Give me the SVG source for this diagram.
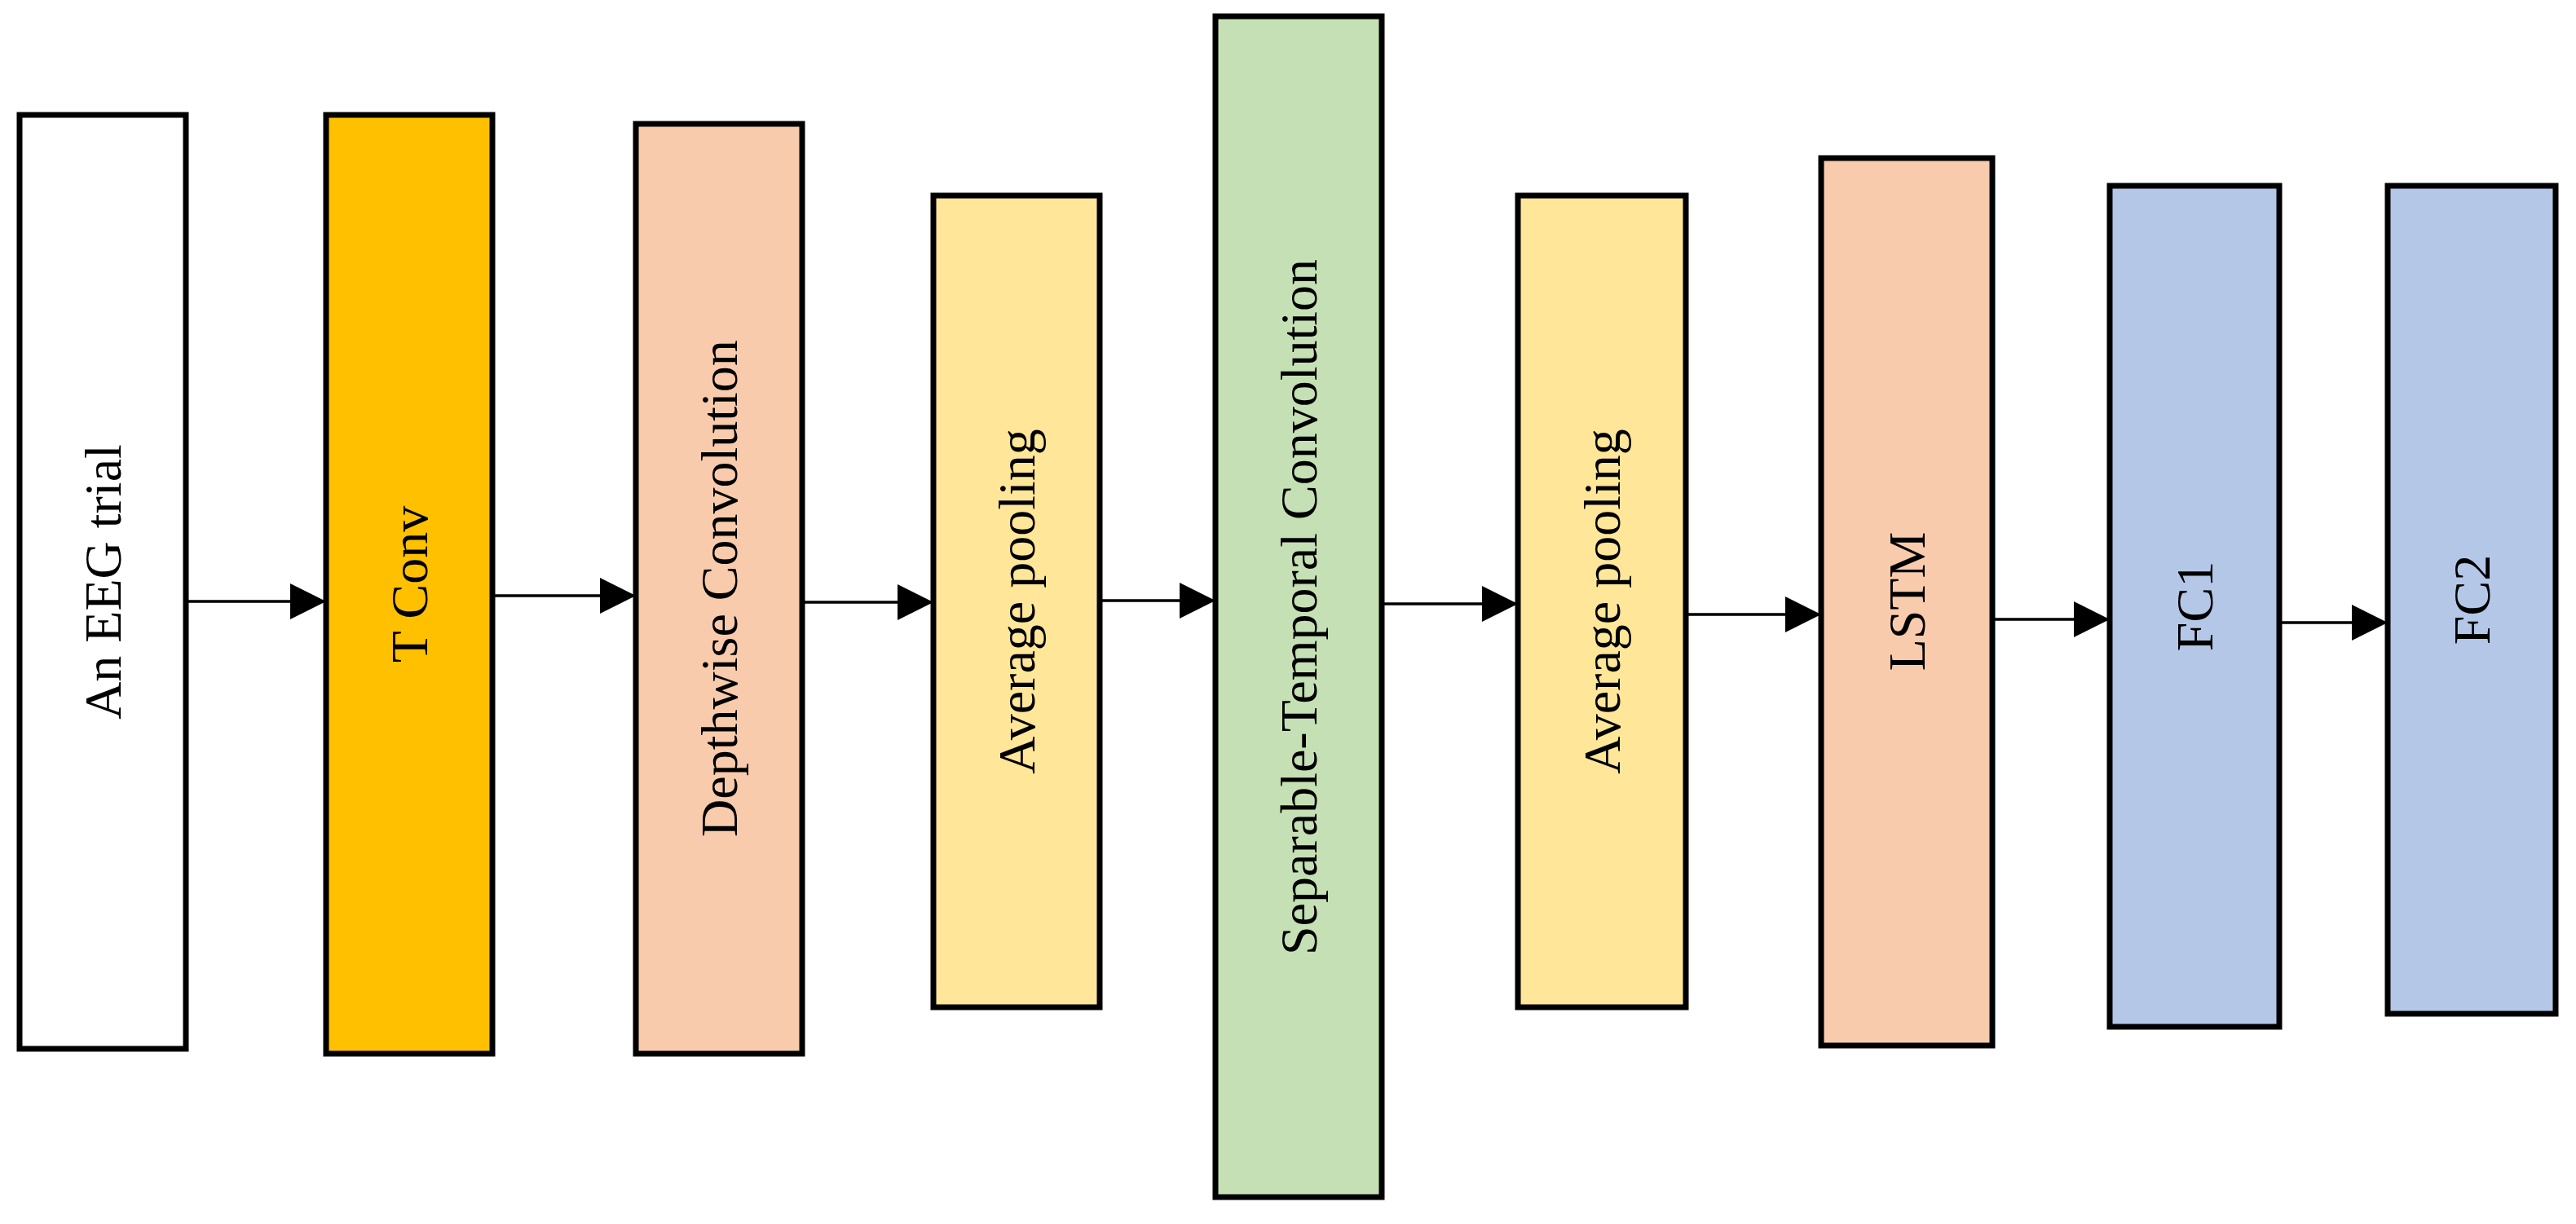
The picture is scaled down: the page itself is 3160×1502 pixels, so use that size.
<svg xmlns="http://www.w3.org/2000/svg" width="3160" height="1502" viewBox="0 0 3160 1502">
<style>
rect{stroke:#000;stroke-width:7}
text{font-family:"Liberation Serif",serif;font-size:64px;fill:#000;text-anchor:middle;dominant-baseline:central}
.c line{stroke:#000;stroke-width:3.5}
</style>
<defs><marker id="a" markerWidth="12" markerHeight="10" refX="12" refY="5" orient="auto" markerUnits="userSpaceOnUse" viewBox="0 0 12 10"><path d="M0,0L12,5L0,10z"/></marker>
<marker id="ah" viewBox="0 0 10 10" refX="10" refY="5" markerWidth="44" markerHeight="44" markerUnits="userSpaceOnUse" orient="auto"><path d="M0,0L10,5L0,10z"/></marker></defs>
<rect width="3160" height="1502" fill="#fff" style="stroke:none"/>
<g id="n1"><rect x="24" y="141" width="204" height="1146" fill="#fff"/><text transform="translate(126,714) rotate(-90)">An EEG trial</text></g>
<g id="n2"><rect x="400" y="141" width="204" height="1152" fill="#FFC000"/><text transform="translate(502,717) rotate(-90)">T Conv</text></g>
<g id="n3"><rect x="780" y="152" width="204" height="1141" fill="#F8CBAD"/><text transform="translate(882,722) rotate(-90)">Depthwise Convolution</text></g>
<g id="n4"><rect x="1145" y="240" width="204" height="996" fill="#FFE699"/><text transform="translate(1247,738) rotate(-90)">Average pooling</text></g>
<g id="n5"><rect x="1491" y="20" width="204" height="1449" fill="#C5E0B4"/><text transform="translate(1593,745) rotate(-90)">Separable-Temporal Convolution</text></g>
<g id="n6"><rect x="1862" y="240" width="206" height="996" fill="#FFE699"/><text transform="translate(1965,738) rotate(-90)">Average pooling</text></g>
<g id="n7"><rect x="2234" y="194" width="210" height="1089" fill="#F8CBAD"/><text transform="translate(2339,738) rotate(-90)">LSTM</text></g>
<g id="n8"><rect x="2588" y="228" width="208" height="1032" fill="#B4C7E7"/><text transform="translate(2692,744) rotate(-90)">FC1</text></g>
<g id="n9"><rect x="2929" y="228" width="206" height="1016" fill="#B4C7E7"/><text transform="translate(3032,736) rotate(-90)">FC2</text></g>
<g class="c" id="connectors">
<line x1="228" y1="738" x2="400" y2="738" marker-end="url(#ah)"/>
<line x1="604" y1="731" x2="780" y2="731" marker-end="url(#ah)"/>
<line x1="984" y1="739" x2="1145" y2="739" marker-end="url(#ah)"/>
<line x1="1349" y1="737" x2="1491" y2="737" marker-end="url(#ah)"/>
<line x1="1695" y1="741" x2="1862" y2="741" marker-end="url(#ah)"/>
<line x1="2068" y1="754" x2="2234" y2="754" marker-end="url(#ah)"/>
<line x1="2444" y1="760" x2="2588" y2="760" marker-end="url(#ah)"/>
<line x1="2796" y1="764" x2="2929" y2="764" marker-end="url(#ah)"/>
</g>
</svg>
